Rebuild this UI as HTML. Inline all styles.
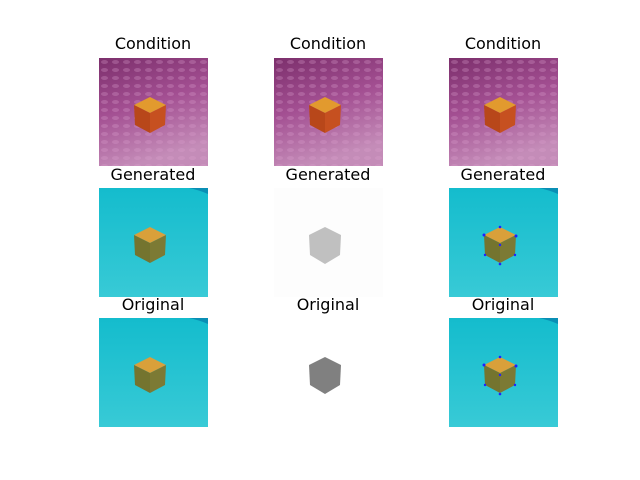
<!DOCTYPE html>
<html><head><meta charset="utf-8"><style>
body{margin:0;background:#fff;}
svg{display:block;font-family:"DejaVu Sans","Liberation Sans",sans-serif;}
</style></head><body>
<svg width="640" height="480" viewBox="0 0 640 480">
<defs>
  <linearGradient id="pink" x1="0" y1="0" x2="0.3" y2="1">
    <stop offset="0" stop-color="#7c2f6c"/><stop offset="0.5" stop-color="#a34f92"/><stop offset="1" stop-color="#c48cb8"/>
  </linearGradient>
  <pattern id="weave" width="11" height="8" patternUnits="userSpaceOnUse">
    <ellipse cx="5.5" cy="4" rx="3.5" ry="2" fill="#dca0d0" opacity="0.3"/>
  </pattern>
  <linearGradient id="cyan" x1="0" y1="0" x2="0" y2="1">
    <stop offset="0" stop-color="#14bccd"/><stop offset="1" stop-color="#38cad6"/>
  </linearGradient>
  <g id="cube-orange">
    <polygon points="35,47 51,39 67,47 51,55" fill="#e29a2e"/>
    <polygon points="35,47 51,55 51,75 36,67" fill="#b8471a"/>
    <polygon points="51,55 67,47 66,67 51,75" fill="#c65020"/>
  </g>
  <g id="cube-olive">
    <polygon points="35,47 51,39 67,47 51,55" fill="#d9a03a"/>
    <polygon points="35,47 51,55 51,75 36,67" fill="#74742f"/>
    <polygon points="51,55 67,47 66,67 51,75" fill="#7c7a34"/>
  </g>
  <g id="kp">
    <circle cx="51" cy="39" r="1.3" fill="#2020ff"/><circle cx="35" cy="47" r="1.5" fill="#2020ff"/>
    <circle cx="67" cy="48" r="1.5" fill="#2020ff"/><circle cx="51" cy="57" r="1.2" fill="#2020ff"/>
    <circle cx="51" cy="76" r="1.3" fill="#2020ff"/><circle cx="36" cy="67" r="1.2" fill="#2020ff"/>
    <circle cx="66" cy="67" r="1.2" fill="#2020ff"/>
  </g>
  <g id="cond">
    <rect width="109" height="108" fill="url(#pink)"/>
    <rect width="109" height="108" fill="url(#weave)"/>
    <use href="#cube-orange"/>
  </g>
  <g id="cyanbg">
    <rect width="109" height="109" fill="url(#cyan)"/>
    <path d="M90,0 L109,0 L109,6 Q100,2 90,0Z" fill="#0a8fb5"/>
  </g>
</defs>
<g font-size="16" fill="#000" text-anchor="middle">
  <text x="153" y="49">Condition</text>
  <text x="328" y="49">Condition</text>
  <text x="503" y="49">Condition</text>
  <text x="153" y="180">Generated</text>
  <text x="328" y="180">Generated</text>
  <text x="503" y="180">Generated</text>
  <text x="153" y="310">Original</text>
  <text x="328" y="310">Original</text>
  <text x="503" y="310">Original</text>
</g>
<g transform="translate(99,58)"><use href="#cond"/></g>
<g transform="translate(274,58)"><use href="#cond"/></g>
<g transform="translate(449,58)"><use href="#cond"/></g>

<g transform="translate(99,188)"><use href="#cyanbg"/><use href="#cube-olive"/></g>
<g transform="translate(274,188)">
  <rect width="109" height="109" fill="#fdfdfd"/>
  <polygon points="51,39 67,47 66,67 51,76 36,67 35,47" fill="#c0c0c0"/>
</g>
<g transform="translate(449,188)"><use href="#cyanbg"/><use href="#cube-olive"/><use href="#kp"/></g>

<g transform="translate(99,318)"><use href="#cyanbg"/><use href="#cube-olive"/></g>
<g transform="translate(274,318)">
  <polygon points="51,39 67,47 66,67 51,76 36,67 35,47" fill="#808080"/>
</g>
<g transform="translate(449,318)"><use href="#cyanbg"/><use href="#cube-olive"/><use href="#kp"/></g>
</svg>
</body></html>
